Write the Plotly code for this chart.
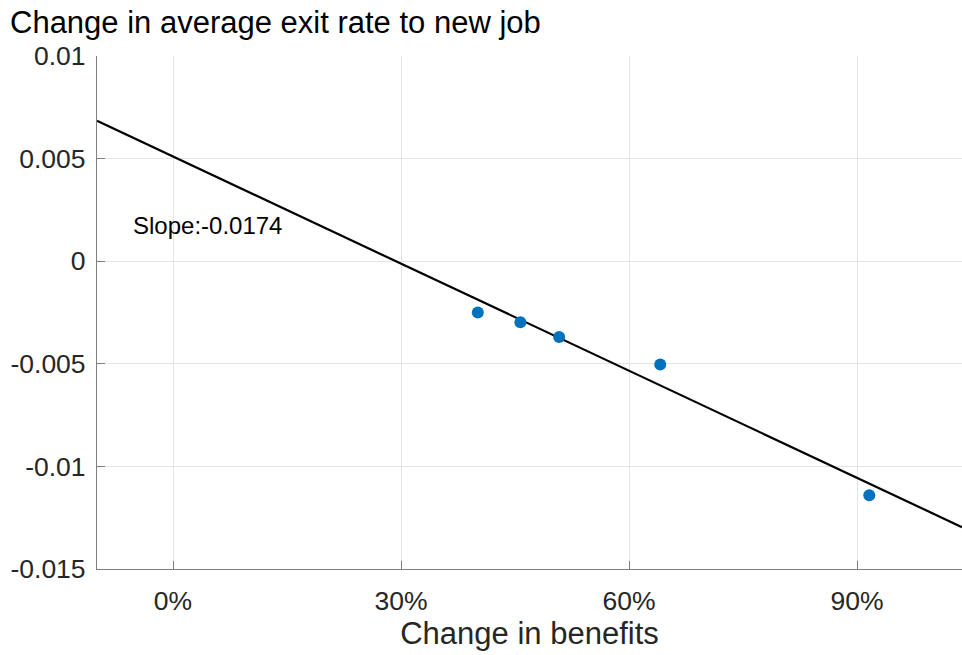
import plotly.graph_objects as go

# Observed change in benefits (fraction) and change in average exit rate to a new job
benefit_change = [0.401, 0.457, 0.508, 0.641, 0.916]
exit_rate_change = [-0.00250, -0.00297, -0.00369, -0.00503, -0.01141]

# Linear fit reported on the chart
fit_slope = -0.0174
fit_intercept = 0.0051

x_range = [-0.1, 1.038]
y_range = [-0.015, 0.01]

x_ticks = [0, 0.3, 0.6, 0.9]
x_tick_labels = ["0%", "30%", "60%", "90%"]
y_ticks = [-0.015, -0.01, -0.005, 0, 0.005, 0.01]
y_tick_labels = ["-0.015", "-0.01", "-0.005", "0", "0.005", "0.01"]

FONT = "Liberation Sans, Arial, Helvetica, sans-serif"
AXIS_GRAY = "#808080"
GRID_GRAY = "#e4e4e4"
TICK_TEXT = "#262626"
TICK_SIZE = 26.5

fit_x = x_range
fit_y = [fit_intercept + fit_slope * v for v in fit_x]

fig = go.Figure()
fig.add_trace(go.Scatter(
    x=fit_x, y=fit_y, mode="lines",
    line=dict(color="black", width=2.2),
    showlegend=False, hoverinfo="skip",
))
fig.add_trace(go.Scatter(
    x=benefit_change, y=exit_rate_change, mode="markers",
    marker=dict(color="#0072BD", size=12, line=dict(width=0)),
    showlegend=False,
))

fig.add_annotation(
    x=-0.055, y=0.00175, xref="x", yref="y",
    text=f"Slope:{fit_slope}", showarrow=False,
    xanchor="left", yanchor="middle",
    font=dict(family=FONT, size=24, color="black"),
)

fig.update_layout(
    width=962, height=655, autosize=False,
    margin=dict(l=97, r=0, t=56, b=86),
    paper_bgcolor="white", plot_bgcolor="white",
    font=dict(family=FONT, color=TICK_TEXT),
    title=dict(
        text="Change in average exit rate to new job",
        xref="container", yref="container",
        x=10 / 962, xanchor="left",
        y=1 - 22 / 655, yanchor="middle",
        font=dict(family=FONT, size=31, color="black"),
    ),
    xaxis=dict(
        range=x_range, tickvals=x_ticks, ticktext=x_tick_labels,
        showgrid=True, gridcolor=GRID_GRAY, gridwidth=1,
        zeroline=False, showline=True, linecolor=AXIS_GRAY, linewidth=1.2,
        ticks="inside", ticklen=8, tickcolor=AXIS_GRAY, tickwidth=1.2,
        tickfont=dict(family=FONT, size=TICK_SIZE, color=TICK_TEXT),
        ticklabelstandoff=8,
        title=dict(text="Change in benefits", standoff=7,
                   font=dict(family=FONT, size=31, color=TICK_TEXT)),
    ),
    yaxis=dict(
        range=y_range, tickvals=y_ticks, ticktext=y_tick_labels,
        showgrid=True, gridcolor=GRID_GRAY, gridwidth=1,
        zeroline=False, showline=True, linecolor=AXIS_GRAY, linewidth=1.2,
        ticks="inside", ticklen=8, tickcolor=AXIS_GRAY, tickwidth=1.2,
        tickfont=dict(family=FONT, size=TICK_SIZE, color=TICK_TEXT),
        ticklabelstandoff=5,
    ),
)

fig.write_html("out.html")
